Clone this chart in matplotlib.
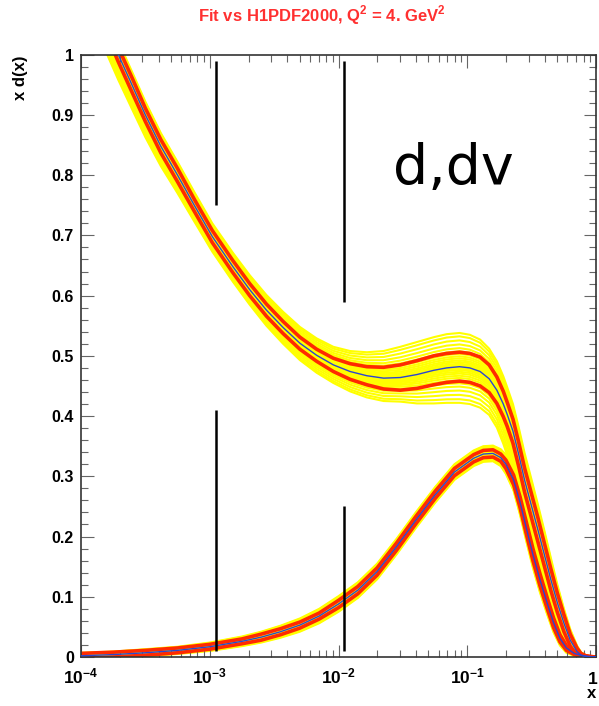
import numpy as np
import matplotlib
matplotlib.use("Agg")
import matplotlib.pyplot as plt
from matplotlib.ticker import LogLocator, MultipleLocator, NullFormatter

plt.rcParams['font.family'] = ['Liberation Sans', 'DejaVu Sans']
plt.rcParams['mathtext.fontset'] = 'custom'
plt.rcParams['mathtext.rm'] = 'Liberation Sans'
plt.rcParams['mathtext.bf'] = 'Liberation Sans:bold'

# x d(x): central fit, 1-sigma band half width, replica envelope (above / below)
d_logx = [-4.00, -3.85, -3.71, -3.60, -3.50, -3.38, -3.25, -3.12, -2.98, -2.82,
          -2.69, -2.56, -2.43, -2.30, -2.17, -2.04, -1.91, -1.78, -1.65, -1.52,
          -1.39, -1.26, -1.16, -1.06, -0.98, -0.90, -0.83, -0.77, -0.72, -0.69,
          -0.645, -0.60, -0.555, -0.50, -0.451, -0.40, -0.35, -0.30, -0.249, -0.20,
          -0.148, -0.117, -0.08, -0.04, 0.0]
d_mid = [1.16, 1.07, 1.00, 0.948, 0.900, 0.848, 0.800, 0.750, 0.698, 0.648,
         0.610, 0.576, 0.547, 0.521, 0.501, 0.485, 0.474, 0.467, 0.463, 0.464,
         0.469, 0.476, 0.480, 0.482, 0.480, 0.474, 0.462, 0.443, 0.420, 0.403,
         0.375, 0.336, 0.294, 0.250, 0.211, 0.169, 0.128, 0.090, 0.056, 0.028,
         0.009, 0.003, 0.001, 0.0, 0.0]
d_err = [0.012, 0.012, 0.012, 0.012, 0.011, 0.011, 0.011, 0.010, 0.010, 0.010,
         0.010, 0.010, 0.010, 0.010, 0.010, 0.011, 0.013, 0.015, 0.018, 0.021,
         0.023, 0.024, 0.024, 0.024, 0.024, 0.024, 0.023, 0.022, 0.021, 0.020,
         0.020, 0.020, 0.020, 0.020, 0.020, 0.019, 0.018, 0.016, 0.014, 0.010,
         0.006, 0.003, 0.001, 0.0, 0.0]
d_rep_hi = [0.022, 0.022, 0.022, 0.022, 0.022, 0.022, 0.022, 0.022, 0.022, 0.023,
            0.024, 0.025, 0.026, 0.027, 0.028, 0.030, 0.034, 0.039, 0.045, 0.051,
            0.054, 0.055, 0.056, 0.056, 0.055, 0.053, 0.050, 0.048, 0.046, 0.045,
            0.045, 0.045, 0.045, 0.044, 0.042, 0.040, 0.036, 0.030, 0.024, 0.018,
            0.010, 0.005, 0.002, 0.0, 0.0]
d_rep_lo = [0.045, 0.044, 0.042, 0.040, 0.037, 0.033, 0.030, 0.027, 0.025, 0.025,
            0.025, 0.026, 0.027, 0.028, 0.029, 0.030, 0.033, 0.036, 0.038, 0.040,
            0.048, 0.055, 0.058, 0.060, 0.060, 0.060, 0.060, 0.062, 0.066, 0.068,
            0.070, 0.070, 0.070, 0.068, 0.064, 0.058, 0.050, 0.042, 0.034, 0.020,
            0.008, 0.003, 0.001, 0.0, 0.0]

# x dv(x)
dv_logx = [-4.00, -3.75, -3.50, -3.25, -3.00, -2.75, -2.60, -2.45, -2.30, -2.15,
           -2.00, -1.85, -1.70, -1.55, -1.40, -1.25, -1.10, -0.95, -0.875, -0.80,
           -0.74, -0.70, -0.64, -0.59, -0.54, -0.49, -0.435, -0.38, -0.33, -0.28,
           -0.23, -0.17, -0.12, -0.06, 0.0]
dv_mid = [0.002, 0.004, 0.007, 0.011, 0.017, 0.026, 0.033, 0.042, 0.053, 0.068,
          0.088, 0.111, 0.142, 0.183, 0.227, 0.269, 0.307, 0.330, 0.337, 0.338,
          0.331, 0.320, 0.294, 0.257, 0.213, 0.170, 0.128, 0.090, 0.057, 0.031,
          0.015, 0.006, 0.003, 0.001, 0.0]
dv_err = [0.004, 0.004, 0.004, 0.004, 0.004, 0.004, 0.005, 0.005, 0.005, 0.005,
          0.006, 0.006, 0.006, 0.006, 0.006, 0.006, 0.006, 0.006, 0.006, 0.006,
          0.006, 0.007, 0.008, 0.009, 0.010, 0.010, 0.010, 0.009, 0.008, 0.006,
          0.004, 0.002, 0.001, 0.0, 0.0]
dv_rep = [0.005, 0.005, 0.006, 0.006, 0.007, 0.008, 0.009, 0.010, 0.011, 0.012,
          0.013, 0.013, 0.013, 0.013, 0.013, 0.013, 0.013, 0.013, 0.013, 0.013,
          0.014, 0.016, 0.018, 0.021, 0.022, 0.022, 0.021, 0.019, 0.016, 0.012,
          0.008, 0.004, 0.002, 0.001, 0.0]

# position of each replica inside the envelope (-1 = lower edge, +1 = upper edge)
replica_pos = [-1.0, -0.9, -0.78, -0.66, -0.55, -0.46, -0.38, -0.31, -0.25, -0.19,
               -0.14, -0.09, -0.05, -0.02, 0.02, 0.05, 0.09, 0.14, 0.19, 0.25,
               0.31, 0.38, 0.46, 0.55, 0.66, 0.78, 0.9, 1.0]

# black markers: x, bottom, top
mark_x = [1.11e-3, 1.11e-3, 1.1e-2, 1.1e-2]
mark_lo = [0.75, 0.01, 0.59, 0.01]
mark_hi = [0.99, 0.41, 0.99, 0.25]

yticks = [0.0, 0.1, 0.2, 0.3, 0.4, 0.5, 0.6, 0.7, 0.8, 0.9, 1.0]
ytick_labels = ['0', '0.1', '0.2', '0.3', '0.4', '0.5', '0.6', '0.7', '0.8', '0.9', '1']
xticks = [1e-4, 1e-3, 1e-2, 1e-1, 1.0]
# the label of the last tick ("1") is drawn separately so it stays on the canvas
xtick_labels = [r'$\mathbf{10^{-4}}$', r'$\mathbf{10^{-3}}$', r'$\mathbf{10^{-2}}$',
                r'$\mathbf{10^{-1}}$', '']
xend_label = '1'

YELLOW = '#ffff00'
RED = '#ff2a00'
BLUE = '#2b45d0'


def draw_pdf(ax, logx, mid, err, rep_hi, rep_lo):
    x = 10.0 ** np.array(logx)
    mid = np.array(mid)
    err = np.array(err)
    rep_hi = np.array(rep_hi)
    rep_lo = np.array(rep_lo)
    for p in replica_pos:
        shift = p * rep_hi if p >= 0 else p * rep_lo
        ax.plot(x, mid + shift, color=YELLOW, lw=1.5, zorder=1)
    ax.plot(x, mid + err, color=RED, lw=2.6, zorder=2)
    ax.plot(x, mid - err, color=RED, lw=2.6, zorder=2)
    ax.plot(x, mid, color=BLUE, lw=1.0, zorder=3)


fig = plt.figure(figsize=(5.99, 7.06), dpi=100)
ax = fig.add_axes([81 / 599, 1 - 657 / 706, 515 / 599, 602.3 / 706])
ax.set_xscale('log')

draw_pdf(ax, d_logx, d_mid, d_err, d_rep_hi, d_rep_lo)
draw_pdf(ax, dv_logx, dv_mid, dv_err, dv_rep, dv_rep)

ax.vlines(mark_x, mark_lo, mark_hi, color='black', lw=1.8, zorder=4)

ax.set_xlim(1e-4, 1.0)
ax.set_ylim(0, 1)

ax.set_yticks(yticks)
ax.set_yticklabels(ytick_labels, fontweight='bold', fontsize=11.5)
ax.yaxis.set_minor_locator(MultipleLocator(0.02))
ax.set_xticks(xticks)
ax.set_xticklabels(xtick_labels, fontsize=12.5)
ax.xaxis.set_minor_locator(LogLocator(base=10, subs=np.arange(2, 10), numticks=20))
ax.xaxis.set_minor_formatter(NullFormatter())

ax.tick_params(which='both', direction='in', top=True, right=True,
               color='#666666', labelcolor='black', width=0.8)
ax.tick_params(which='major', length=9)
ax.tick_params(which='minor', length=5)
ax.tick_params(axis='x', pad=7)
ax.tick_params(axis='y', pad=5)
for sp in ax.spines.values():
    sp.set_color('#333333')
    sp.set_linewidth(1.2)

ax.text(10 ** -1.575, 0.785, 'd,dv', fontsize=40, family='DejaVu Sans',
        color='black', zorder=5)

fig.text(593 / 599, 1 - 672 / 706, xend_label, fontsize=12.5, fontweight='bold',
         ha='center', va='top')
fig.text(322 / 599, 1 - 15 / 706, r'Fit vs H1PDF2000, Q$^{\mathbf{2}}$ = 4. GeV$^{\mathbf{2}}$',
         color='#ff3030', fontsize=12, fontweight='bold', ha='center', va='center')
fig.text(21 / 599, 1 - 55 / 706, 'x d(x)', rotation=90, fontsize=12,
         fontweight='bold', ha='center', va='top')
fig.text(592 / 599, 1 - 694 / 706, 'x', fontsize=12, fontweight='bold',
         ha='center', va='center')

fig.savefig('out.png', dpi=100)
